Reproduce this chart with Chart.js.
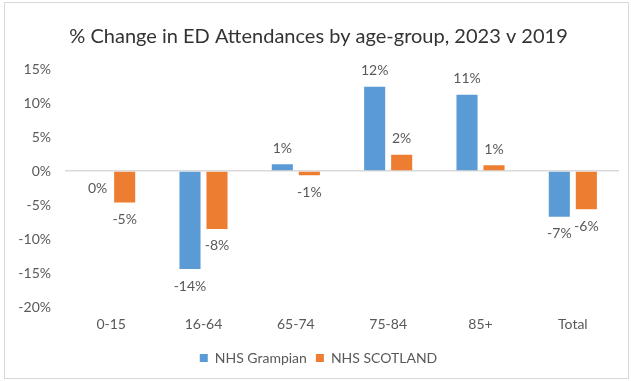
<!DOCTYPE html>
<html>
<head>
<meta charset="utf-8">
<script src="https://cdn.jsdelivr.net/npm/chart.js@4.4.0/dist/chart.umd.min.js"></script>
<style>
  html, body { margin: 0; padding: 0; background: #fff; }
  #wrap { width: 631px; height: 381px; position: relative; }
</style>
</head>
<body>
<div id="wrap"><canvas id="edChart" width="631" height="381"></canvas></div>
<script>
// % change in ED attendances, 2023 vs 2019
const ageGroups = ['0-15', '16-64', '65-74', '75-84', '85+', 'Total'];
const grampian = [-0.1, -14.4, 1.0, 12.4, 11.2, -6.7];
const scotland = [-4.6, -8.5, -0.6, 2.4, 0.85, -5.6];
const yTicks = [15, 10, 5, 0, -5, -10, -15, -20];

const fontFamily = 'Lato, "Open Sans", sans-serif';
const textGrey = '#595959';

function pct(v) {
    let r = Math.round(v);
    if (r === 0) r = 0; // drop -0
    return r + '%';
}

// simple data labels: above positive bars, below negative ones
const barLabels = {
    id: 'barLabels',
    afterDatasetsDraw(chart) {
        const ctx = chart.ctx;
        ctx.save();
        ctx.font = '14px ' + fontFamily;
        ctx.fillStyle = textGrey;
        ctx.textAlign = 'center';
        ctx.textBaseline = 'middle';
        chart.data.datasets.forEach((ds, i) => {
            chart.getDatasetMeta(i).data.forEach((bar, j) => {
                const v = ds.data[j];
                const y = v >= 0 ? bar.y - 16 : bar.y + 17;
                ctx.fillText(pct(v), bar.x, y);
            });
        });
        ctx.restore();
    },
};

// thin grey frame round the whole chart, like the Excel chart area
const frame = {
    id: 'frame',
    beforeDraw(chart) {
        const ctx = chart.ctx;
        ctx.save();
        ctx.fillStyle = '#fff';
        ctx.fillRect(0, 0, chart.width, chart.height);
        ctx.strokeStyle = '#d9d9d9';
        ctx.lineWidth = 1;
        ctx.strokeRect(4.5, 2.5, chart.width - 7, chart.height - 5);
        ctx.restore();
    },
};

new Chart(document.getElementById('edChart').getContext('2d'), {
    type: 'bar',
    data: {
        labels: ageGroups,
        datasets: [
            {
                label: 'NHS Grampian',
                data: grampian,
                backgroundColor: '#5b9bd5',
                barPercentage: 0.78,
                categoryPercentage: 0.585,
            },
            {
                label: 'NHS SCOTLAND',
                data: scotland,
                backgroundColor: '#ed7d31',
                barPercentage: 0.78,
                categoryPercentage: 0.585,
            },
        ],
    },
    options: {
        responsive: false,
        animation: false,
        layout: { padding: { left: 18, right: 12, top: 3, bottom: 6 } },
        plugins: {
            title: {
                display: true,
                text: '% Change in ED Attendances by age-group, 2023 v 2019',
                color: '#333',
                font: { family: fontFamily, size: 20, weight: 'normal' },
                padding: { top: 22, bottom: 20 },
            },
            legend: {
                position: 'bottom',
                labels: {
                    color: textGrey,
                    font: { family: fontFamily, size: 14 },
                    boxWidth: 8,
                    boxHeight: 8,
                    padding: 9,
                },
            },
            tooltip: { enabled: false },
        },
        scales: {
            x: {
                grid: { display: false, drawTicks: false },
                border: { display: false },
                ticks: { color: textGrey, font: { family: fontFamily, size: 14 }, padding: 9 },
            },
            y: {
                min: -20,
                max: 15,
                afterFit: axis => { axis.width = 47; },
                afterBuildTicks: axis => { axis.ticks = yTicks.map(v => ({ value: v })); },
                grid: {
                    drawTicks: false,
                    color: ctx => (ctx.tick && ctx.tick.value === 0 ? '#d9d9d9' : 'transparent'),
                    lineWidth: 1.5,
                },
                border: { display: false },
                ticks: {
                    color: textGrey,
                    font: { family: fontFamily, size: 14 },
                    padding: 14,
                    callback: v => v + '%',
                },
            },
        },
    },
    plugins: [frame, barLabels],
});
</script>
</body>
</html>
